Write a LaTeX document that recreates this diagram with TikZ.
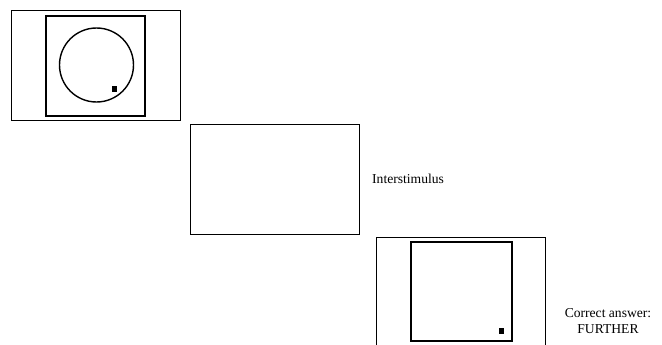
\documentclass[tikz,border=0pt]{standalone}
\usepackage{fontspec}
\setmainfont{Liberation Serif}
\usepackage{tikz}
\usetikzlibrary{positioning}

\begin{document}
\begin{tikzpicture}[
    x=1pt, y=-1pt,
    screen/.style={draw, line width=0.8pt, inner sep=0pt, minimum width=169pt, minimum height=110pt},
    frame/.style={draw, line width=1.8pt, inner sep=0pt, minimum width=99pt, minimum height=100pt},
    dot/.style={fill, inner sep=0pt, minimum width=5pt, minimum height=6pt},
    label text/.style={inner sep=0pt, font=\fontsize{13.6}{16}\selectfont}
]
    \useasboundingbox (0,0) rectangle (662,345);
    % screen 1: circle
    \node[screen] (s1) at (96,65) {};
    \node[frame] (f1) at (95.5,66) {};
    \node[draw, circle, line width=1.4pt, minimum size=74pt, inner sep=0pt] (c1) at (96.5,65) {};
    \node[dot] (d1) at (114.5,89) {};
    % screen 2: blank
    \node[screen] (s2) at (275,179) {};
    \node[label text, anchor=base west] (t2) at (372,183) {Interstimulus};
    % screen 3: square, clipped at bottom
    \draw[line width=0.8pt] (376,345) |- (545,237) -- (545,345);
    \node[frame, minimum width=101pt, minimum height=99pt] (f3) at (461.5,291.5) {};
    \node[dot] (d3) at (501,330.5) {};
    \node[label text, align=center, anchor=base] (t3) at (608,333) {Correct answer:\\FURTHER};
\end{tikzpicture}
\end{document}
